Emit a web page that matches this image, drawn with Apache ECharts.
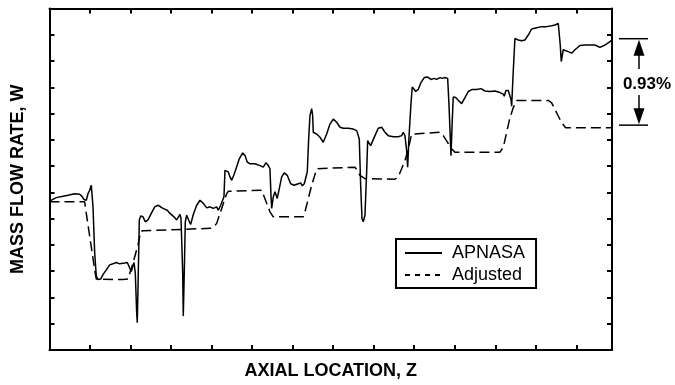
<!DOCTYPE html>
<html>
<head>
<meta charset="utf-8">
<script src="https://cdn.jsdelivr.net/npm/echarts@6/dist/echarts.min.js"></script>
<style>
  html, body { margin: 0; padding: 0; background: #fff; }
  #chart { width: 675px; height: 385px; }
</style>
</head>
<body>
<div id="chart"></div>
<script>
// axial location (tick units) and mass flow rate (tick units)
var apnasaZ = [0, 0.168, 0.333, 0.456, 0.622, 0.745, 0.802, 0.851, 0.908, 0.95, 0.992, 1.031, 1.056, 1.073, 1.115, 1.155, 1.197, 1.263, 1.32, 1.401,
  1.485, 1.567, 1.648, 1.732, 1.855, 1.92, 1.979, 2.018, 2.06, 2.085, 2.117, 2.151, 2.166, 2.191, 2.216, 2.25, 2.307, 2.364, 2.43, 2.512,
  2.596, 2.677, 2.8, 2.906, 2.973, 3.072, 3.138, 3.178, 3.22, 3.245, 3.286, 3.301, 3.326, 3.351, 3.385, 3.434, 3.484, 3.548, 3.632, 3.713,
  3.795, 3.879, 3.96, 4.041, 4.125, 4.165, 4.224, 4.273, 4.305, 4.33, 4.372, 4.412, 4.453, 4.495, 4.552, 4.602, 4.683, 4.767, 4.824, 4.88,
  4.947, 5.07, 5.194, 5.275, 5.342, 5.374, 5.399, 5.44, 5.465, 5.482, 5.522, 5.564, 5.62, 5.67, 5.729, 5.793, 5.867, 5.951, 6.033, 6.139,
  6.198, 6.237, 6.287, 6.329, 6.361, 6.395, 6.427, 6.469, 6.494, 6.509, 6.551, 6.593, 6.674, 6.756, 6.839, 6.921, 7.002, 7.086, 7.168, 7.249,
  7.372, 7.496, 7.58, 7.619, 7.644, 7.678, 7.711, 7.742, 7.784, 7.826, 7.851, 7.89, 7.925, 7.974, 8.031, 8.112, 8.196, 8.278, 8.359, 8.483,
  8.606, 8.69, 8.729, 8.771, 8.813, 8.838, 8.87, 8.919, 8.951, 9.001, 9.035, 9.099, 9.166, 9.247, 9.331, 9.413, 9.494, 9.553, 9.635, 9.692,
  9.758, 9.825, 9.857, 9.889, 9.906, 9.938, 9.963, 10.022, 10.104, 10.17, 10.252, 10.333, 10.432, 10.54, 10.647, 10.745, 10.869, 10.992, 11.115, 11.197,
  11.221, 11.263, 11.32, 11.362, 11.387, 11.404, 11.443, 11.485, 11.527, 11.567, 11.651, 11.732, 11.814, 11.897, 12.021, 12.144, 12.268, 12.391, 12.472, 12.554,
  12.578, 12.603, 12.628, 12.677, 12.719, 12.8, 12.884, 12.966, 13.089, 13.212, 13.336, 13.459, 13.583, 13.706, 13.829, 13.879];
var apnasaW = [5.67, 5.8, 5.85, 5.89, 5.95, 5.93, 5.85, 5.73, 5.7, 5.95, 6.08, 6.27, 6.33, 5.46, 3.69, 2.81, 2.68, 2.7, 2.87, 3.05,
  3.24, 3.28, 3.33, 3.28, 3.31, 3.33, 3.12, 2.99, 3.21, 3.33, 2.93, 1.42, 1.04, 2.93, 4.95, 5.1, 5.07, 4.88, 4.95, 5.2,
  5.45, 5.51, 5.39, 5.32, 5.2, 5.07, 4.95, 5.01, 5.16, 5.01, 2.99, 1.29, 2.99, 4.88, 5.13, 4.95, 4.78, 5.16, 5.51, 5.7,
  5.58, 5.41, 5.45, 5.39, 5.45, 5.32, 5.51, 5.51, 5.83, 6.84, 6.84, 6.78, 6.59, 6.46, 6.67, 6.9, 7.28, 7.5, 7.4, 7.15,
  7.09, 7.09, 7.02, 6.96, 7.13, 7.18, 7.02, 6.9, 5.89, 5.39, 5.83, 6.02, 5.77, 6.14, 6.59, 6.74, 6.65, 6.33, 6.27, 6.33,
  6.36, 6.25, 6.33, 6.4, 6.78, 8.03, 8.92, 9.19, 8.92, 8.29, 8.35, 8.22, 8.1, 7.91, 8.22, 8.6, 8.79, 8.67, 8.48, 8.44,
  8.44, 8.41, 8.35, 8.41, 8.03, 6.27, 5.01, 4.88, 5.13, 6.78, 7.97, 8.03, 7.78, 7.78, 8.16, 8.44, 8.48, 8.29, 8.16, 8.12,
  8.12, 8.16, 8.29, 8.16, 7.59, 6.96, 8.1, 9.36, 10.01, 9.92, 9.84, 9.92, 10.18, 10.37, 10.39, 10.3, 10.34, 10.3, 10.37, 10.34,
  10.37, 10.34, 9.36, 8.1, 7.4, 8.73, 9.63, 9.61, 9.48, 9.38, 9.61, 9.84, 9.92, 9.92, 9.95, 9.86, 9.84, 9.86, 9.8, 9.74,
  9.66, 9.88, 9.88, 9.91, 9.54, 9.28, 10.6, 11.86, 11.93, 11.8, 11.77, 11.8, 11.99, 12.22, 12.27, 12.31, 12.31, 12.34, 12.37, 12.43,
  12.43, 11.61, 10.98, 11.43, 11.49, 11.36, 11.3, 11.43, 11.59, 11.61, 11.61, 11.61, 11.52, 11.61, 11.74, 11.8];

var adjustedZ = [0, 0.868, 0.883, 1.115, 1.155, 1.813, 1.937, 2.06, 2.184, 2.25, 2.307, 3.96, 4.041, 4.125, 4.249, 4.372, 4.412, 5.236, 5.275, 5.44,
  5.522, 6.262, 6.304, 6.469, 6.593, 6.632, 7.538, 7.594, 7.661, 7.784, 8.525, 8.606, 8.771, 8.853, 8.937, 8.976, 9.635, 9.716, 9.923, 10.005,
  11.115, 11.197, 11.362, 11.443, 11.527, 12.307, 12.391, 12.638, 12.736, 13.879];
var adjustedW = [5.64, 5.64, 5.46, 3.05, 2.7, 2.68, 2.7, 3.31, 4.0, 4.51, 4.54, 4.63, 4.66, 4.82, 5.39, 5.95, 6.04, 6.08, 6.02, 5.26,
  5.07, 5.07, 5.26, 6.27, 6.9, 6.96, 6.96, 6.84, 6.65, 6.52, 6.5, 6.59, 7.21, 7.66, 8.22, 8.29, 8.29, 8.16, 7.66, 7.53,
  7.53, 7.72, 8.84, 9.22, 9.5, 9.5, 9.41, 8.65, 8.46, 8.46];

var seriesNames = ['APNASA', 'Adjusted'];
var annotTop = 11.85, annotBottom = 8.56, annotText = '0.93%';

var zMax = 13.88, wMax = 13;
var font = "'Liberation Sans', Arial, sans-serif";

function zip(a, b) {
  var out = [];
  for (var i = 0; i < a.length; i++) out.push([a[i], b[i]]);
  return out;
}

var frameAxis = {
  axisLine: { show: true, onZero: false, lineStyle: { color: '#000', width: 2 } },
  axisTick: { show: true, inside: true, length: 5, lineStyle: { color: '#000', width: 2 } },
  axisLabel: { show: false },
  splitLine: { show: false }
};

var nameStyle = { color: '#000', fontFamily: font, fontWeight: 'bold', fontSize: 18 };

var chart = echarts.init(document.getElementById('chart'));
chart.setOption({
  animation: false,
  grid: { left: 49.5, right: 63, top: 8.5, bottom: 32.5 },
  xAxis: [
    Object.assign({ type: 'value', position: 'bottom', min: 0, max: zMax, interval: 1,
      name: 'AXIAL LOCATION, Z', nameLocation: 'middle', nameGap: 12, nameTextStyle: nameStyle }, frameAxis),
    Object.assign({ type: 'value', position: 'top', min: 0, max: zMax, interval: 1 }, frameAxis)
  ],
  yAxis: [
    Object.assign({ type: 'value', position: 'left', min: 0, max: wMax, interval: 1,
      name: 'MASS FLOW RATE, W', nameLocation: 'middle', nameGap: 22, nameTextStyle: nameStyle }, frameAxis),
    Object.assign({ type: 'value', position: 'right', min: 0, max: wMax, interval: 1 }, frameAxis)
  ],
  legend: {
    left: 396, top: 239,
    orient: 'vertical',
    selectedMode: false,
    borderColor: '#000', borderWidth: 2,
    padding: [5, 11, 4, 8],
    itemWidth: 37, itemHeight: 14, itemGap: 4,
    itemStyle: { color: 'transparent', borderWidth: 0, opacity: 0 },
    textStyle: { color: '#000', fontFamily: font, fontSize: 18, padding: [0, 0, 0, 5] },
    data: [
      { name: seriesNames[0] },
      { name: seriesNames[1], lineStyle: { type: [5, 5] } }
    ]
  },
  series: [
    {
      name: seriesNames[0], type: 'line', symbol: 'none',
      lineStyle: { color: '#000', width: 1.5 },
      itemStyle: { color: '#000' },
      data: zip(apnasaZ, apnasaW)
    },
    {
      name: seriesNames[1], type: 'line', symbol: 'none',
      lineStyle: { color: '#000', width: 1.5, type: [10, 5] },
      itemStyle: { color: '#000' },
      data: zip(adjustedZ, adjustedW)
    }
  ]
});

// difference marker on the right, placed from the y axis scale
var yT = chart.convertToPixel({ yAxisIndex: 0 }, annotTop);
var yB = chart.convertToPixel({ yAxisIndex: 0 }, annotBottom);
var ax = 639, mid = (yT + yB) / 2 + 2;
var blk = { stroke: '#000', lineWidth: 1.5 };
chart.setOption({
  graphic: [
    { type: 'line', shape: { x1: 619, y1: yT, x2: 648, y2: yT }, style: blk },
    { type: 'line', shape: { x1: 619, y1: yB, x2: 648, y2: yB }, style: blk },
    { type: 'polygon', shape: { points: [[ax, yT + 1], [ax - 5.5, yT + 17], [ax + 5.5, yT + 17]] }, style: { fill: '#000' } },
    { type: 'line', shape: { x1: ax, y1: yT + 16, x2: ax, y2: mid - 15 }, style: blk },
    { type: 'polygon', shape: { points: [[ax, yB - 1], [ax - 5.5, yB - 17], [ax + 5.5, yB - 17]] }, style: { fill: '#000' } },
    { type: 'line', shape: { x1: ax, y1: yB - 16, x2: ax, y2: mid + 11 }, style: blk },
    { type: 'text', x: 647, y: mid, style: { text: annotText, fill: '#000', font: 'bold 17px ' + font, align: 'center', verticalAlign: 'middle' } }
  ]
});

window.addEventListener('resize', function () {
  chart.resize();
});
</script>
</body>
</html>
